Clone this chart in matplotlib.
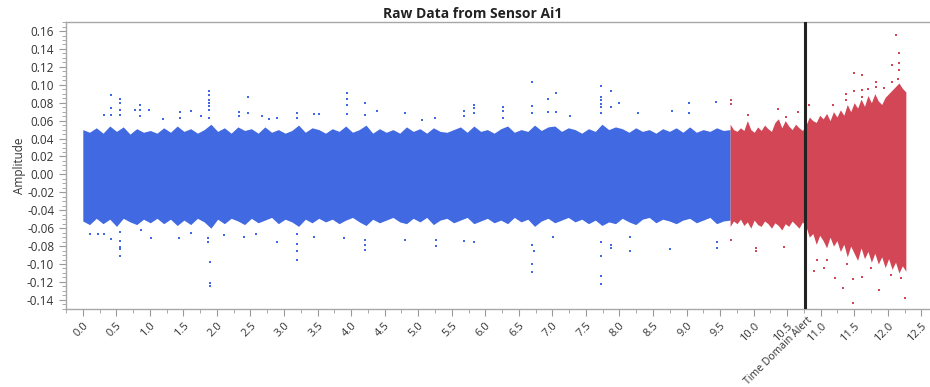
import numpy as np
import matplotlib
matplotlib.use("Agg")
import matplotlib.pyplot as plt
from matplotlib.ticker import MultipleLocator, FormatStrFormatter
import matplotlib.transforms as mtransforms

plt.rcParams['font.family'] = ['Open Sans', 'DejaVu Sans']

# envelope of the normal-run signal, evenly spaced from t=0 to the change point
blue_start, blue_end = 0.0, 9.65
blue_upper = [0.050, 0.047, 0.052, 0.046, 0.054, 0.048, 0.053, 0.045, 0.051, 0.047,
              0.049, 0.046, 0.052, 0.047, 0.054, 0.048, 0.051, 0.046, 0.050, 0.056,
              0.048, 0.052, 0.046, 0.053, 0.049, 0.051, 0.046, 0.053, 0.047, 0.050,
              0.046, 0.049, 0.055, 0.047, 0.052, 0.050, 0.046, 0.051, 0.048, 0.054,
              0.047, 0.050, 0.055, 0.046, 0.051, 0.047, 0.050, 0.046, 0.053, 0.048,
              0.051, 0.046, 0.052, 0.048, 0.047, 0.050, 0.053, 0.047, 0.054, 0.048,
              0.050, 0.046, 0.051, 0.054, 0.047, 0.050, 0.048, 0.055, 0.049, 0.053,
              0.054, 0.048, 0.052, 0.050, 0.046, 0.051, 0.048, 0.056, 0.050, 0.053,
              0.051, 0.047, 0.052, 0.048, 0.050, 0.046, 0.051, 0.048, 0.052, 0.047,
              0.053, 0.047, 0.050, 0.048, 0.052, 0.049, 0.050]
blue_lower = [-0.052, -0.056, -0.049, -0.055, -0.050, -0.058, -0.049, -0.053, -0.056, -0.050,
              -0.054, -0.049, -0.055, -0.050, -0.057, -0.051, -0.056, -0.049, -0.053, -0.060,
              -0.050, -0.055, -0.049, -0.052, -0.056, -0.049, -0.054, -0.051, -0.048, -0.055,
              -0.050, -0.053, -0.058, -0.050, -0.054, -0.049, -0.053, -0.050, -0.055, -0.051,
              -0.048, -0.053, -0.057, -0.050, -0.054, -0.051, -0.048, -0.053, -0.055, -0.049,
              -0.053, -0.048, -0.056, -0.051, -0.049, -0.054, -0.051, -0.048, -0.055, -0.052,
              -0.049, -0.054, -0.051, -0.055, -0.048, -0.053, -0.050, -0.058, -0.052, -0.049,
              -0.054, -0.051, -0.048, -0.053, -0.050, -0.055, -0.051, -0.057, -0.053, -0.055,
              -0.049, -0.053, -0.056, -0.050, -0.048, -0.054, -0.050, -0.052, -0.055, -0.051,
              -0.049, -0.054, -0.051, -0.048, -0.055, -0.052, -0.051]

# envelope after the change point, evenly spaced up to the end of the record
red_start, red_end = 9.65, 12.27
red_upper = [0.056, 0.050, 0.048, 0.052, 0.049, 0.060, 0.050, 0.047, 0.053, 0.049,
             0.055, 0.051, 0.048, 0.058, 0.062, 0.052, 0.060, 0.054, 0.050, 0.056,
             0.052, 0.049, 0.055, 0.064, 0.060, 0.058, 0.066, 0.062, 0.068, 0.060,
             0.070, 0.064, 0.072, 0.066, 0.078, 0.070, 0.080, 0.074, 0.084, 0.076,
             0.088, 0.080, 0.090, 0.082, 0.078, 0.086, 0.090, 0.094, 0.098, 0.102,
             0.096, 0.092]
red_lower = [-0.058, -0.052, -0.055, -0.050, -0.057, -0.053, -0.060, -0.051, -0.056, -0.058,
             -0.052, -0.055, -0.060, -0.054, -0.057, -0.062, -0.055, -0.058, -0.052, -0.056,
             -0.060, -0.053, -0.058, -0.070, -0.066, -0.078, -0.068, -0.074, -0.082, -0.070,
             -0.080, -0.074, -0.086, -0.078, -0.092, -0.080, -0.088, -0.096, -0.082, -0.094,
             -0.086, -0.098, -0.088, -0.100, -0.092, -0.104, -0.094, -0.106, -0.098, -0.110,
             -0.102, -0.108]

# isolated samples outside the envelope
blue_out_t = [0.31, 0.415, 0.415, 0.415, 0.56, 0.56, 0.56, 0.56, 0.78, 0.85, 0.85, 0.85,
              0.98, 1.20, 1.45, 1.45, 1.61, 1.76, 1.88, 1.88, 1.88, 1.88, 1.88, 1.88, 1.88,
              2.33, 2.33, 2.47, 2.47, 2.67, 2.77, 2.89, 3.20, 3.20, 3.44, 3.52, 3.94, 3.94,
              3.94, 3.94, 4.20, 4.20, 4.39, 4.80, 5.05, 5.25, 5.68, 5.68, 5.83, 5.83, 5.83,
              6.27, 6.27, 6.27, 6.70, 6.70, 6.70, 6.94, 6.94, 7.05, 7.05, 7.27, 7.72, 7.72,
              7.72, 7.72, 7.72, 7.72, 7.87, 7.87, 7.99, 8.28, 8.79, 9.04, 9.04, 9.44,
              0.10, 0.23, 0.32, 0.415, 0.56, 0.56, 0.56, 0.56, 0.56, 0.87, 1.02, 1.44, 1.61,
              1.86, 1.86, 1.89, 1.89, 1.89, 2.11, 2.40, 2.58, 2.90, 3.20, 3.20, 3.20, 3.20,
              3.45, 3.90, 4.21, 4.21, 4.21, 4.80, 5.26, 5.26, 5.68, 5.83, 6.70, 6.70, 6.70,
              6.72, 7.01, 7.72, 7.72, 7.72, 7.72, 7.87, 7.87, 8.16, 8.16, 8.75, 9.45, 9.45]
blue_out_v = [0.066, 0.089, 0.074, 0.066, 0.0845, 0.080, 0.072, 0.066, 0.072, 0.077, 0.072, 0.065,
              0.072, 0.062, 0.070, 0.063, 0.071, 0.065, 0.0934, 0.0886, 0.083, 0.080, 0.076, 0.072, 0.063,
              0.070, 0.065, 0.0864, 0.068, 0.065, 0.062, 0.063, 0.068, 0.063, 0.067, 0.067, 0.0905, 0.0838,
              0.078, 0.067, 0.080, 0.066, 0.071, 0.068, 0.061, 0.063, 0.071, 0.065, 0.078, 0.074, 0.068,
              0.075, 0.071, 0.063, 0.103, 0.076, 0.069, 0.084, 0.070, 0.091, 0.070, 0.065, 0.0987, 0.0868,
              0.083, 0.079, 0.0756, 0.068, 0.093, 0.075, 0.080, 0.068, 0.071, 0.080, 0.068, 0.081,
              -0.067, -0.066, -0.067, -0.072, -0.064, -0.074, -0.0805, -0.083, -0.091, -0.062, -0.0715, -0.0715, -0.0655,
              -0.071, -0.075, -0.098, -0.121, -0.125, -0.068, -0.070, -0.0665, -0.075, -0.067, -0.078, -0.085, -0.095,
              -0.070, -0.0706, -0.073, -0.079, -0.084, -0.073, -0.073, -0.080, -0.074, -0.075, -0.079, -0.100, -0.109,
              -0.086, -0.070, -0.075, -0.0916, -0.113, -0.122, -0.079, -0.082, -0.070, -0.085, -0.083, -0.075, -0.082]

red_out_t = [9.67, 9.67, 9.92, 10.37, 10.49, 10.66, 10.83, 11.18, 11.38, 11.38, 11.49, 11.49,
             11.61, 11.61, 11.61, 11.70, 11.83, 11.83, 11.95, 12.07, 12.07, 12.12, 12.16, 12.17,
             12.17, 12.17,
             9.67, 10.04, 10.04, 10.46, 10.90, 11.05, 11.21, 11.33, 11.48, 11.48, 11.61, 11.87,
             12.20, 12.25, 10.95, 11.10, 11.40, 11.75, 12.05]
red_out_v = [0.083, 0.079, 0.066, 0.073, 0.0645, 0.070, 0.0775, 0.0775, 0.090, 0.083, 0.113, 0.093,
             0.111, 0.094, 0.086, 0.095, 0.1035, 0.098, 0.096, 0.122, 0.1035, 0.1555, 0.107, 0.136,
             0.124, 0.117,
             -0.073, -0.082, -0.086, -0.081, -0.108, -0.105, -0.116, -0.127, -0.117, -0.143, -0.114, -0.129,
             -0.116, -0.138, -0.095, -0.096, -0.100, -0.104, -0.112]

alert_time = 10.77
alert_label = "Time Domain Alert"

blue = "#4169E1"
red = "#D24655"

fig = plt.figure(figsize=(9.3, 3.87), dpi=100)
ax = fig.add_axes([0.071, 0.202, 0.929, 0.741])

bx = np.linspace(blue_start, blue_end, len(blue_upper))
ax.fill_between(bx, blue_lower, blue_upper, color=blue, linewidth=0)
ax.scatter(blue_out_t, blue_out_v, s=3, marker='s', color=blue, linewidths=0)

rx = np.linspace(red_start, red_end, len(red_upper))
ax.fill_between(rx, red_lower, red_upper, color=red, linewidth=0)
ax.scatter(red_out_t, red_out_v, s=3, marker='s', color=red, linewidths=0)

ax.axvline(alert_time, color="#222222", lw=2.2, zorder=5)
trans = mtransforms.blended_transform_factory(ax.transData, ax.transAxes)
ax.text(alert_time + 0.03, -0.02, alert_label, transform=trans, rotation=45,
        rotation_mode='anchor', ha='right', va='top', fontsize=7.6, color="#333333")

ax.set_xlim(-0.25, 12.63)
ax.set_ylim(-0.150, 0.170)
ax.xaxis.set_major_locator(MultipleLocator(0.5))
ax.xaxis.set_minor_locator(MultipleLocator(0.25))
ax.xaxis.set_major_formatter(FormatStrFormatter('%.1f'))
ax.yaxis.set_minor_locator(MultipleLocator(0.005))
ax.yaxis.set_major_formatter(FormatStrFormatter('%.2f'))
ax.set_yticks(np.arange(-0.14, 0.161, 0.02))

ax.tick_params(axis='both', which='major', direction='out', length=5, width=0.8,
               color="#9a9a9a", labelsize=8.5, labelcolor="#333333")
ax.tick_params(axis='x', which='major', labelsize=8)
ax.tick_params(axis='both', which='minor', direction='out', length=3, width=0.6, color="#9a9a9a")
for lbl in ax.get_xticklabels():
    lbl.set_rotation(45)
    lbl.set_rotation_mode('anchor')
    lbl.set_ha('right')
    lbl.set_va('top')

for side in ['left', 'bottom', 'top']:
    ax.spines[side].set_color("#a8a8a8")
    ax.spines[side].set_linewidth(1.0)
ax.spines['right'].set_visible(False)

ax.set_ylabel("Amplitude", fontsize=8.5, color="#333333", labelpad=1)
fig.text(473 / 930, 1 - 14 / 387, "Raw Data from Sensor Ai1", ha='center', va='center',
         fontsize=10, fontweight='bold', color="#222222")

fig.savefig("out.png", dpi=100)
